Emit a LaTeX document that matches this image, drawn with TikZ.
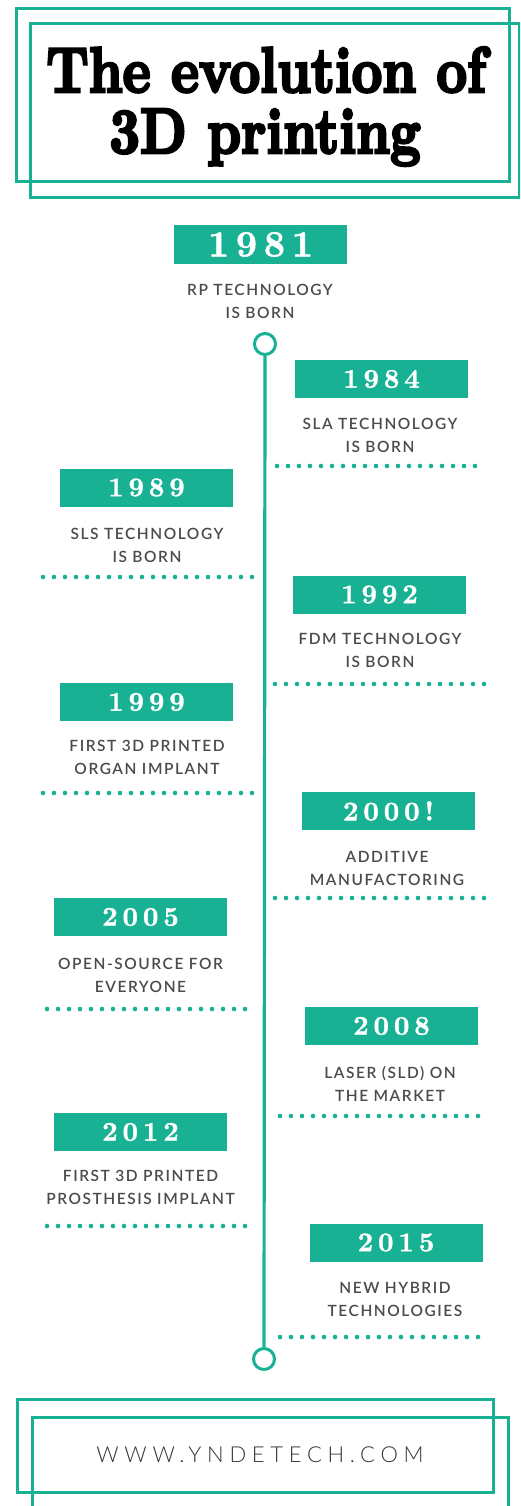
\documentclass[tikz,border=0pt]{standalone}
\usepackage{fontspec}
\usepackage{graphicx}
\setmainfont{Latin Modern Roman}
\newfontfamily\titlefont{lmroman10-bold}[Extension=.otf, FakeBold=4.5]
\newfontfamily\yearfont{lmroman10-bold}[Extension=.otf, LetterSpace=18, FakeBold=1.2]
\newfontfamily\notefont{Lato}[UprightFont=* Semibold, LetterSpace=10]
\newfontfamily\webfont{Lato}[UprightFont=* Light, LetterSpace=26]

\definecolor{teal}{RGB}{24,177,147}
\definecolor{ink}{RGB}{75,75,75}
\definecolor{webink}{RGB}{55,55,55}

\tikzset{
  frame/.style={draw=teal, line width=3pt},
  yearbox/.style={fill=teal, minimum width=173pt, minimum height=38pt, inner sep=0pt,
    text=white, font=\yearfont\fontsize{27}{27}\selectfont},
  bigyear/.style={yearbox, font=\yearfont\fontsize{37}{37}\selectfont},
  note/.style={align=center, inner sep=0pt, text=ink,
    font=\notefont\fontsize{15.5}{23}\selectfont},
  dots/.style={draw=teal, line width=4.6pt, line cap=round, dash pattern=on 0pt off 11pt},
  knot/.style={circle, draw=teal, line width=3pt, fill=white, minimum size=21pt, inner sep=0pt},
  spine/.style={draw=teal, line width=3.2pt},
  titletext/.style={inner sep=0pt, anchor=base, font=\titlefont\fontsize{64}{64}\selectfont},
}

\begin{document}
\begin{tikzpicture}[x=1pt, y=-1pt]
\useasboundingbox (0,0) rectangle (520,1506);
\clip (0,0) rectangle (520,1506);
\fill[white] (0,0) rectangle (520,1506);

% header with its two offset frames
\draw[frame] (16,9) rectangle (509,182);
\draw[frame] (30,24) rectangle (519,198);
\node[titletext] (title1) at (266,92) {\scalebox{0.83}[1]{The evolution of}};
\node[titletext] (title2) at (265,153) {\scalebox{0.83}[1]{3D printing}};

% first milestone above the spine
\node[bigyear] (y1981) at (260.5,244.5) {1981};
\node[note] (t1981) at (260,301.5) {RP TECHNOLOGY\\IS BORN};

% timeline spine
\node[knot] (top) at (265,344) {};
\node[knot] (bottom) at (264,1359) {};
\draw[spine] (top.south) -- (bottom.north);

% milestones, alternating right / left of the spine
\node[yearbox] (y1984) at (381.5,379) {1984};
\node[note] (t1984) at (380,435) {SLA TECHNOLOGY\\IS BORN};
\draw[dots] (277,466) -- (486,466);

\node[yearbox] (y1989) at (146.5,487.5) {1989};
\node[note] (t1989) at (147,545) {SLS TECHNOLOGY\\IS BORN};
\draw[dots] (43,577) -- (253,577);

\node[yearbox] (y1992) at (379.5,594.5) {1992};
\node[note] (t1992) at (380,650.5) {FDM TECHNOLOGY\\IS BORN};
\draw[dots] (275,684) -- (486,684);

\node[yearbox] (y1999) at (146.5,702) {1999};
\node[note] (t1999) at (147,757.5) {FIRST 3D PRINTED\\ORGAN IMPLANT};
\draw[dots] (43,793) -- (253,793);

\node[yearbox] (y2000) at (388.5,811) {2000!};
\node[note] (t2000) at (387,868) {ADDITIVE\\MANUFACTORING};
\draw[dots] (275,898) -- (486,898);

\node[yearbox] (y2005) at (140.5,917) {2005};
\node[note] (t2005) at (140.5,975) {OPEN-SOURCE FOR\\EVERYONE};
\draw[dots] (47,1009) -- (249,1009);

\node[yearbox] (y2008) at (391.5,1026) {2008};
\node[note] (t2008) at (390,1083.5) {LASER (SLD) ON\\THE MARKET};
\draw[dots] (280,1116) -- (483,1116);

\node[yearbox] (y2012) at (140.5,1132) {2012};
\node[note] (t2012) at (140.5,1187) {FIRST 3D PRINTED\\PROSTHESIS IMPLANT};
\draw[dots] (47,1226) -- (249,1226);

\node[yearbox] (y2015) at (396,1242.5) {2015};
\node[note] (t2015) at (395,1299.5) {NEW HYBRID\\TECHNOLOGIES};
\draw[dots] (280,1337) -- (483,1337);

% footer with its two offset frames
\draw[frame] (17,1399) rectangle (493,1492);
\draw[frame] (32,1417) rectangle (508,1512);
\node[inner sep=0pt, text=webink, font=\webfont\fontsize{22}{22}\selectfont] (web) at (260,1455) {WWW.YNDETECH.COM};
\end{tikzpicture}
\end{document}
